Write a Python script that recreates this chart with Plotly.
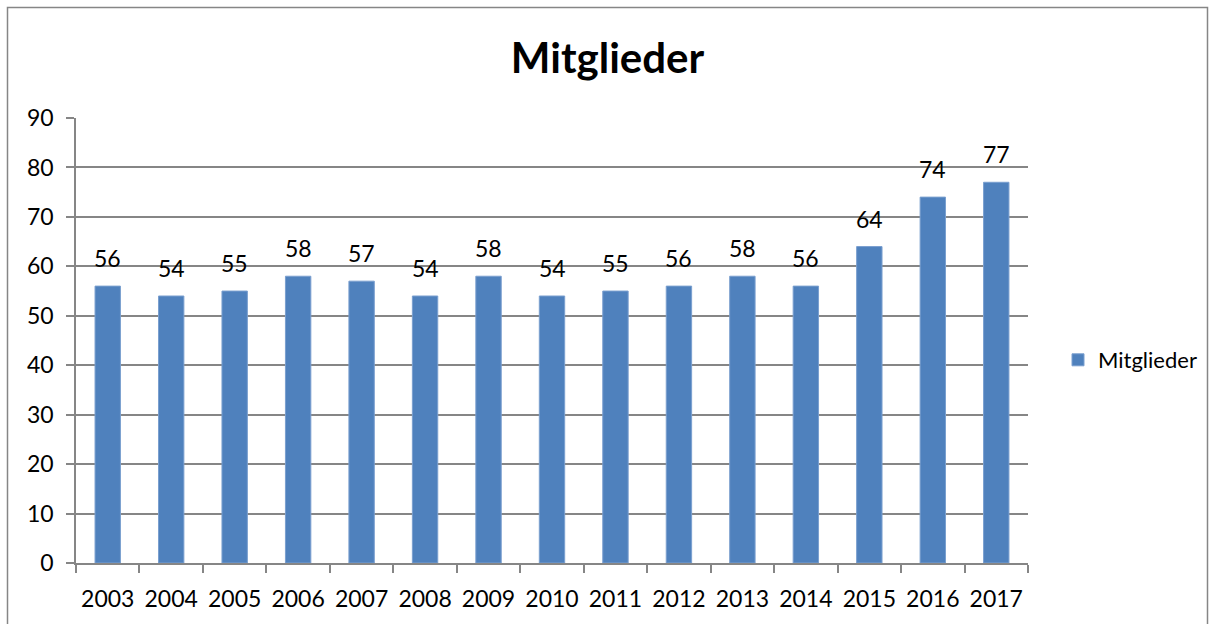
import plotly.graph_objects as go

years = ["2003", "2004", "2005", "2006", "2007", "2008", "2009", "2010",
         "2011", "2012", "2013", "2014", "2015", "2016", "2017"]
members = [56, 54, 55, 58, 57, 54, 58, 54, 55, 56, 58, 56, 64, 74, 77]
series_name = "Mitglieder"
title_text = "Mitglieder"

FONT = "Lato, Open Sans, sans-serif"
L, R, T, B = 76, 187, 118, 61
W, H = 1215, 624
pw, ph = W - L - R, H - T - B

fig = go.Figure(go.Bar(
    x=years, y=members, name=series_name,
    marker=dict(color="#4F81BD", line=dict(color="#7A9FCF", width=1)),
))

# data labels: category index positions on the category axis
for idx, v in enumerate(members):
    fig.add_annotation(x=idx, y=v, xref="x", yref="y", text=str(v),
                       showarrow=False, yanchor="bottom", xanchor="center",
                       yshift=12,
                       font=dict(size=23, family=FONT, color="#000000"))

def px_x(p):
    return (p - L) / pw

def px_y(p):
    return (H - B - p) / ph

fig.update_layout(
    width=W, height=H,
    margin=dict(l=L, r=R, t=T, b=B),
    paper_bgcolor="white", plot_bgcolor="white",
    title=dict(text="<b>" + title_text + "</b>", x=0.5, xanchor="center",
               y=1 - 58 / H, yanchor="middle", yref="container",
               font=dict(size=42, family=FONT, color="#000000")),
    showlegend=True,
    legend=dict(x=px_x(1058), xanchor="left", y=px_y(360), yanchor="middle",
                font=dict(size=22, family=FONT, color="#000000"),
                itemwidth=30, bgcolor="rgba(0,0,0,0)"),
    bargap=0.6,
    xaxis=dict(type="category", categoryorder="array", categoryarray=years,
               range=[-0.5, len(years) - 0.5],
               showline=True, linecolor="#868686", linewidth=1.5,
               ticks="outside", tickson="boundaries", ticklen=8, tickcolor="#868686",
               tickwidth=1.5, showgrid=False, tickangle=0, ticklabelstandoff=15,
               tickfont=dict(size=23, family=FONT, color="#000000")),
    yaxis=dict(range=[0, 90], dtick=10, showline=True, linecolor="#868686", linewidth=1.5,
               ticks="outside", ticklen=8, tickcolor="#868686", tickwidth=1.5,
               showgrid=True, gridcolor="#868686", gridwidth=1.5, zeroline=False,
               ticklabelstandoff=8,
               tickfont=dict(size=23, family=FONT, color="#000000")),
    shapes=[dict(type="rect", xref="paper", yref="paper",
                 x0=px_x(7.5), x1=px_x(1207.5), y0=px_y(640), y1=px_y(7.5),
                 line=dict(color="#868686", width=1.5), fillcolor="rgba(0,0,0,0)",
                 layer="below")],
)

fig.write_html("out.html", config={"displayModeBar": False},
               post_script="document.body.style.margin='0px';document.body.style.overflow='hidden';")
